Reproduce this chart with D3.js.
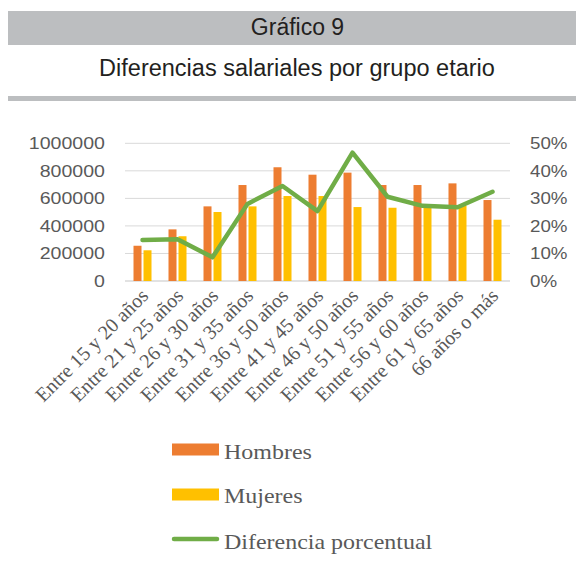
<!DOCTYPE html>
<html><head><meta charset="utf-8">
<script src="https://cdn.jsdelivr.net/npm/d3@7"></script>
<style>body{margin:0;background:#fff}</style>
</head><body>
<svg id="c" width="576" height="569"></svg>
<script>
const categories = ["Entre 15 y 20 años","Entre 21 y 25 años","Entre 26 y 30 años","Entre 31 y 35 años","Entre 36 y 50 años","Entre 41 y 45 años","Entre 46 y 50 años","Entre 51 y 55 años","Entre 56 y 60 años","Entre 61 y 65 años","66 años o más"];
const hombres = [256000, 375000, 542000, 697000, 826000, 772000, 787000, 697000, 697000, 709000, 588000];
const mujeres = [223000, 325000, 501000, 542000, 617000, 617000, 537000, 532000, 545000, 545000, 445000];
const diferencia = [0.149, 0.152, 0.086, 0.280, 0.345, 0.254, 0.466, 0.306, 0.273, 0.268, 0.324];
const leftTicks = [0, 200000, 400000, 600000, 800000, 1000000];
const rightTicks = [0, 0.1, 0.2, 0.3, 0.4, 0.5];
const seriesNames = ["Hombres", "Mujeres", "Diferencia porcentual"];
const colors = ["#ED7D31", "#FFC000", "#70AD47"];

const svg = d3.select("#c");
const textGray = "#595959";

// header
svg.append("rect").attr("x", 8).attr("y", 11).attr("width", 568).attr("height", 34).attr("fill", "#BCBEC0");
svg.append("rect").attr("x", 8).attr("y", 96).attr("width", 568).attr("height", 5).attr("fill", "#BCBEC0");
svg.append("text").attr("x", 297.5).attr("y", 35).attr("text-anchor", "middle")
  .attr("font-family", "Liberation Sans, Arial, sans-serif").attr("font-size", 23).attr("fill", "#231F20").text("Gráfico 9");
svg.append("text").attr("x", 297).attr("y", 76).attr("text-anchor", "middle")
  .attr("font-family", "Liberation Sans, Arial, sans-serif").attr("font-size", 23.5).attr("fill", "#231F20").text("Diferencias salariales por grupo etario");

const plotL = 125, plotR = 510, plotT = 143.3, plotB = 281;
const x0 = d3.scaleBand().domain(categories).range([plotL, plotR]).paddingInner(0.4857).paddingOuter(0.243);
const x1 = d3.scaleBand().domain(["h", "m"]).range([0, x0.bandwidth()]).paddingInner(0.2);
const yL = d3.scaleLinear().domain([0, 1000000]).range([plotB, plotT]);
const yR = d3.scaleLinear().domain([0, 0.5]).range([plotB, plotT]);

// gridlines
svg.append("g").selectAll("line").data(leftTicks).join("line")
  .attr("x1", plotL).attr("x2", plotR).attr("y1", d => yL(d)).attr("y2", d => yL(d))
  .attr("stroke", "#D9D9D9").attr("stroke-width", d => d === 0 ? 1.5 : 1);

// axes
const gl = svg.append("g").attr("transform", "translate(105,0)")
  .call(d3.axisLeft(yL).tickValues(leftTicks).tickSize(0).tickPadding(0).tickFormat(d3.format("d")));
gl.select(".domain").remove();
gl.selectAll("text").attr("font-family", "Liberation Sans, Arial, sans-serif").attr("font-size", 16.3)
  .attr("fill", textGray).attr("transform", "scale(1.2,1)");

const gr = svg.append("g").attr("transform", "translate(530,0)")
  .call(d3.axisRight(yR).tickValues(rightTicks).tickSize(0).tickPadding(0).tickFormat(d3.format(".0%")));
gr.select(".domain").remove();
gr.selectAll("text").attr("font-family", "Liberation Sans, Arial, sans-serif").attr("font-size", 16.3)
  .attr("fill", textGray).attr("transform", "scale(1.15,1)");

// bars
const barG = svg.append("g");
barG.selectAll("rect.h").data(categories).join("rect").attr("class", "h")
  .attr("x", d => x0(d) + x1("h")).attr("width", x1.bandwidth())
  .attr("y", (d, i) => yL(hombres[i])).attr("height", (d, i) => yL(0) - yL(hombres[i]))
  .attr("fill", colors[0]);
barG.selectAll("rect.m").data(categories).join("rect").attr("class", "m")
  .attr("x", d => x0(d) + x1("m")).attr("width", x1.bandwidth())
  .attr("y", (d, i) => yL(mujeres[i])).attr("height", (d, i) => yL(0) - yL(mujeres[i]))
  .attr("fill", colors[1]);

// line
const line = d3.line().x((d, i) => x0(categories[i]) + x0.bandwidth() / 2).y(d => yR(d));
svg.append("path").datum(diferencia).attr("d", line).attr("fill", "none")
  .attr("stroke", colors[2]).attr("stroke-width", 4.5).attr("stroke-linejoin", "round").attr("stroke-linecap", "round");

// x labels
svg.append("g").selectAll("text").data(categories).join("text")
  .attr("transform", d => `translate(${x0(d) + x0.bandwidth() / 2 + 7},297) rotate(-45)`)
  .attr("text-anchor", "end")
  .attr("font-family", "Liberation Serif, Times New Roman, serif").attr("font-size", 20)
  .attr("fill", textGray).text(d => d);

// legend
const lg = svg.append("g");
const legY = [443.5, 488.5, 533];
lg.append("rect").attr("x", 172).attr("y", legY[0]).attr("width", 47).attr("height", 12).attr("fill", colors[0]);
lg.append("rect").attr("x", 172).attr("y", legY[1]).attr("width", 47).attr("height", 12).attr("fill", colors[1]);
lg.append("line").attr("x1", 174).attr("x2", 217).attr("y1", 539).attr("y2", 539)
  .attr("stroke", colors[2]).attr("stroke-width", 4.5).attr("stroke-linecap", "round");
const legBase = [459.3, 503.3, 549.3];
lg.selectAll("text").data(seriesNames).join("text")
  .attr("transform", (d, i) => `translate(224,${legBase[i]}) scale(1.09,1)`)
  .attr("font-family", "Liberation Serif, Times New Roman, serif").attr("font-size", 22)
  .attr("fill", textGray).text(d => d);
</script>
</body></html>
